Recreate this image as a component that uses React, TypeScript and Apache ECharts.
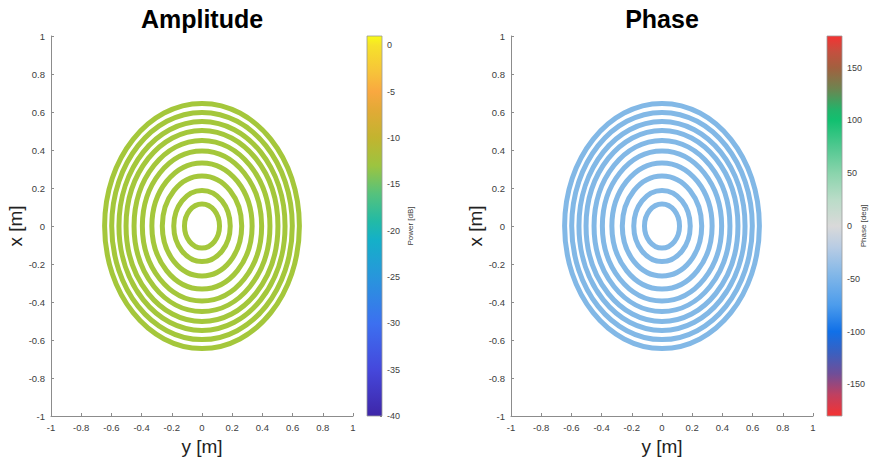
import React, { useEffect, useRef } from "react";
import * as echarts from "echarts";

// ---- data ----
const axisTickValues = [-1, -0.8, -0.6, -0.4, -0.2, 0, 0.2, 0.4, 0.6, 0.8, 1];
const ringRadii = [0.116, 0.187, 0.263, 0.332, 0.395, 0.45, 0.503, 0.55, 0.598, 0.645];
const powerRange = [-40, 1];
const powerTicks = [0, -5, -10, -15, -20, -25, -30, -35, -40];
const phaseRange = [-180, 180];
const phaseTicks = [150, 100, 50, 0, -50, -100, -150];
const powerStopValues = [1, 0, -3, -5, -7, -10, -13, -16, -19, -21, -25, -30, -35, -40];
const powerStopColors = ["#F9FB15", "#F6E22A", "#F7C23A", "#F9A840", "#E2AA36", "#C2B42F", "#9CC440", "#56C27C", "#22BAA6", "#14B0C8", "#2896DC", "#3C70F0", "#4548DC", "#3E26A8"];
const phaseStopValues = [180, 165, 150, 130, 110, 100, 75, 50, 25, 0, -20, -45, -75, -100, -120, -140, -160, -180];
const phaseStopColors = ["#F53232", "#C4503F", "#A2603F", "#6E8450", "#22B46A", "#12C070", "#50C890", "#8AD4AC", "#BADCC8", "#D9D9D9", "#B8CCE4", "#84B8E8", "#4C9CEC", "#1070E8", "#3A60C0", "#704E98", "#C04060", "#F53232"];

const AMP_RING_COLOR = "#A4C73B";
const PHASE_RING_COLOR = "#82B8E6";
const FONT = "Liberation Sans, Arial, Helvetica, sans-serif";
const AXIS_COLOR = "#8c8c8c";
const LABEL_COLOR = "#404040";

function fmt(v: number) {
  const r = Math.round(v * 10) / 10;
  return String(r === 0 ? 0 : r);
}

function mainAxis(gridIndex: number, isX: boolean) {
  return {
    type: "value",
    gridIndex,
    min: -1,
    max: 1,
    interval: 0.2,
    position: isX ? "bottom" : "left",
    name: isX ? "y [m]" : "x [m]",
    nameLocation: "middle",
    nameGap: isX ? 20 : 26,
    nameTextStyle: { fontSize: 19, color: "#222", fontFamily: FONT },
    axisLine: { show: true, onZero: false, lineStyle: { color: AXIS_COLOR, width: 1 } },
    axisTick: { show: true, inside: true, length: 3, customValues: axisTickValues, lineStyle: { color: AXIS_COLOR } },
    axisLabel: { color: LABEL_COLOR, fontSize: 9.5, fontFamily: FONT, margin: 6, customValues: axisTickValues, formatter: (v: number) => fmt(v) },
    splitLine: { show: false },
  };
}

function cbXAxis(gridIndex: number) {
  return { type: "value", gridIndex, min: 0, max: 1, show: false };
}

function cbYAxis(gridIndex: number, range: number[], ticks: number[]) {
  return {
    type: "value",
    gridIndex,
    min: range[0],
    max: range[1],
    position: "right",
    axisLine: { show: false, onZero: false },
    axisTick: { show: true, inside: true, length: 2, customValues: ticks, lineStyle: { color: "#777" } },
    axisLabel: { customValues: ticks, color: LABEL_COLOR, fontSize: 9, fontFamily: FONT, margin: 5 },
    splitLine: { show: false },
  };
}

function ringSeries(axisIndex: number, color: string) {
  return {
    type: "custom",
    xAxisIndex: axisIndex,
    yAxisIndex: axisIndex,
    silent: true,
    data: ringRadii.map((r) => [r, 0]),
    renderItem: (_p: any, api: any) => {
      const r = api.value(0);
      const c = api.coord([0, 0]);
      const s = api.size([r, r]);
      return {
        type: "ellipse",
        shape: { cx: c[0], cy: c[1], rx: s[0], ry: s[1] },
        style: { fill: "none", stroke: color, lineWidth: 5 },
      };
    },
  };
}

function colorbarSeries(axisIndex: number, range: number[], values: number[], colors: string[]) {
  return {
    type: "custom",
    xAxisIndex: axisIndex,
    yAxisIndex: axisIndex,
    silent: true,
    data: [[0, range[0]]],
    renderItem: (_p: any, api: any) => {
      const p0 = api.coord([0, range[1]]);
      const p1 = api.coord([1, range[0]]);
      const stops = values.map((v, i) => ({ offset: (range[1] - v) / (range[1] - range[0]), color: colors[i] }));
      return {
        type: "rect",
        shape: { x: p0[0], y: p0[1], width: p1[0] - p0[0], height: p1[1] - p0[1] },
        style: {
          fill: new echarts.graphic.LinearGradient(0, 0, 0, 1, stops),
          stroke: "#9a9a9a",
          lineWidth: 0.8,
        },
      };
    },
  };
}

export default function App() {
  const ref = useRef<HTMLDivElement>(null);
  useEffect(() => {
    if (!ref.current) return;
    const chart = echarts.init(ref.current, undefined, { renderer: "svg" });
    chart.setOption({
      animation: false,
      backgroundColor: "#ffffff",
      graphic: [
        { type: "text", x: 202, y: 19, style: { text: "Amplitude", fontSize: 25, fontWeight: "bold", fill: "#000", fontFamily: FONT, align: "center", verticalAlign: "middle" } },
        { type: "text", x: 662, y: 19, style: { text: "Phase", fontSize: 25, fontWeight: "bold", fill: "#000", fontFamily: FONT, align: "center", verticalAlign: "middle" } },
        { type: "text", x: 410, y: 226, rotation: Math.PI / 2, style: { text: "Power [dB]", fontSize: 8, fill: LABEL_COLOR, fontFamily: FONT, align: "center", verticalAlign: "middle" } },
        { type: "text", x: 863, y: 226, rotation: Math.PI / 2, style: { text: "Phase [deg]", fontSize: 8, fill: LABEL_COLOR, fontFamily: FONT, align: "center", verticalAlign: "middle" } },
      ],
      grid: [
        { left: 51, top: 36, width: 302, height: 380 },
        { left: 367, top: 36, width: 15, height: 380 },
        { left: 511, top: 36, width: 302, height: 380 },
        { left: 827, top: 36, width: 15, height: 380 },
      ],
      xAxis: [mainAxis(0, true), cbXAxis(1), mainAxis(2, true), cbXAxis(3)],
      yAxis: [
        mainAxis(0, false),
        cbYAxis(1, powerRange, powerTicks),
        mainAxis(2, false),
        cbYAxis(3, phaseRange, phaseTicks),
      ],
      series: [
        ringSeries(0, AMP_RING_COLOR),
        colorbarSeries(1, powerRange, powerStopValues, powerStopColors),
        ringSeries(2, PHASE_RING_COLOR),
        colorbarSeries(3, phaseRange, phaseStopValues, phaseStopColors),
      ],
    });
    return () => chart.dispose();
  }, []);
  return <div ref={ref} style={{ position: "fixed", left: 0, top: 0, width: 870, height: 461 }} />;
}
